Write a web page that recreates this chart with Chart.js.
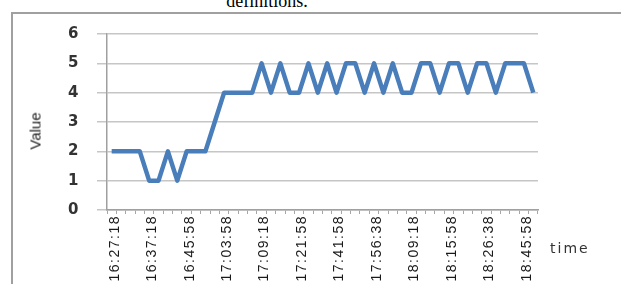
<!DOCTYPE html>
<html><head><meta charset="utf-8">
<script src="https://cdn.jsdelivr.net/npm/chart.js@4.4.1/dist/chart.umd.min.js"></script>
<style>
html,body{margin:0;padding:0;background:#fff;}
body{width:621px;height:284px;position:relative;overflow:hidden;}
#cap{position:absolute;left:0;width:534px;top:-8px;text-align:center;font:18px/1 "Liberation Serif","Times New Roman",serif;color:#000;}
#box{position:absolute;left:11px;top:12px;width:700px;height:400px;border-left:2px solid #a0a0a0;border-top:2px solid #a0a0a0;}
#c{position:absolute;left:0;top:0;}
#ytitle{position:absolute;left:35px;top:131px;transform:translate(-50%,-50%) rotate(-90deg);font:15px "Liberation Sans Narrow","Liberation Sans",sans-serif;color:#222;white-space:nowrap;}
#xtitle{position:absolute;left:550px;top:240px;font:14px "DejaVu Sans",sans-serif;letter-spacing:2px;color:#333;}
</style></head>
<body>
<div id="cap">definitions.</div>
<div id="box"></div>
<canvas id="c" width="621" height="284"></canvas>
<div id="ytitle">Value</div>
<div id="xtitle">time</div>
<script>
const categories = [
 '16:27:18','','','','16:37:18','','','','16:45:58','','','',
 '17:03:58','','','','17:09:18','','','','17:21:58','','','',
 '17:41:58','','','','17:56:38','','','','18:09:18','','','',
 '18:15:58','','','','18:26:38','','','','18:45:58',''
];
const values = [2,2,2,2,1,1,2,1,2,2,2,3,4,4,4,4,5,4,5,4,4,5,4,5,4,5,5,4,5,4,5,4,4,5,5,4,5,5,4,5,5,4,5,5,5,4];
const yTickValues = [0,1,2,3,4,5,6];

const spacing = {id:'spacing', beforeDraw(c){ c.ctx.letterSpacing = '1.5px'; }};

new Chart(document.getElementById('c'), {
  type: 'line',
  data: { labels: categories, datasets: [{
    data: values, borderColor: '#4a7ebb', borderWidth: 4.5, pointRadius: 0,
    tension: 0, fill: false, borderJoinStyle: 'round'
  }]},
  options: {
    responsive: false, animation: false,
    layout: { padding: { top: 34, right: 83, left: 0, bottom: 0 } },
    plugins: { legend: { display: false }, tooltip: { enabled: false } },
    scales: {
      x: {
        offset: true,
        grid: { display: true, drawOnChartArea: false, drawTicks: true, tickLength: 4, color: '#a6a6a6', lineWidth: 1, offset: true },
        border: { display: true, color: '#a0a0a0', width: 1.5 },
        ticks: { autoSkip: false, maxRotation: 90, minRotation: 90, padding: 1, labelOffset: 3,
          font: { family: 'Liberation Sans', size: 14 }, color: '#1a1a1a' },
        afterFit: s => { s.height = 74; }
      },
      y: {
        min: yTickValues[0], max: yTickValues[yTickValues.length-1],
        afterBuildTicks: s => { s.ticks = yTickValues.map(v => ({ value: v })); },
        grid: { color: '#c6c6c6', lineWidth: 1.5, tickLength: 10, drawTicks: true },
        border: { display: true, color: '#a0a0a0', width: 1.5 },
        ticks: { padding: 17, font: { family: 'DejaVu Sans', size: 15, weight: 'bold' }, color: '#333' },
        afterFit: s => { s.width = 107; }
      }
    }
  },
  plugins: [spacing]
});
</script>
</body></html>
